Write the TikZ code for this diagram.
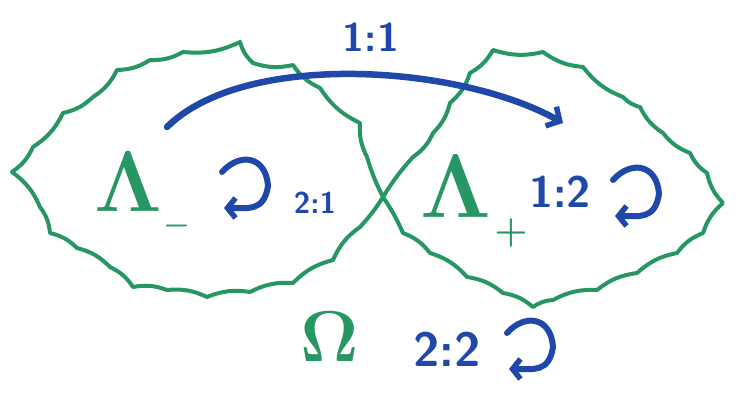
\RequirePackage{fix-cm}
\documentclass[tikz,border=0pt]{standalone}
\usetikzlibrary{arrows.meta}
\definecolor{mkgreen}{RGB}{38,150,98}
\definecolor{mkblue}{RGB}{32,72,170}
\begin{document}
\begin{tikzpicture}[x=1pt,y=-1pt, line cap=round, line join=round,
  blob/.style={draw=mkgreen, line width=4pt},
  flow/.style={draw=mkblue, line width=6.5pt, -{Straight Barb[length=10pt,width=22pt,line width=5.5pt]}},
  cyc/.style={draw=mkblue, line width=6pt, -{Straight Barb[length=8pt,width=20pt,line width=5.5pt]}},
  ratio/.style={text=mkblue, inner sep=0pt, font=\sffamily\bfseries\fontsize{#1}{#1}\selectfont},
  sym/.style={text=mkgreen, inner sep=0pt, font=\boldmath\fontsize{#1}{#1}\selectfont}]
\useasboundingbox (0,0) rectangle (746,393);
% left region
\draw[blob] (12,172) \foreach \a/\b in {33/147,63/113,93/97,117/70,150/60,183/52,240/42,253/63,293/65,320/88,360/123,367/157} { to[bend right=15] (\a,\b) } to[bend right=5] (383,197) to[bend left=5] (360,227) \foreach \a/\b in {333/260,293/283,250/292,207/297,167/290,133/287,110/267,77/248,50/233,40/207} { to[bend right=15] (\a,\b) } to[bend right=15] (12,172);
% right region
\draw[blob] (383,197) to[bend left=5] (413,157) \foreach \a/\b in {433/133,450/103,470/73,493/50,543/52,583/67,623/97,640/107,663/133,690/153,707/173,723/203,703/233,677/253,637/273,597/290,553/300,533/307,503/293,467/277,430/253,403/233} { to[bend right=15] (\a,\b) } to[bend right=5] (383,197);
% labels
\node[sym=86] (lm) at (128,182) {$\mathbf{\Lambda}$};
\node[sym=30] (lmsub) at (177,226) {$\mathbf{-}$};
\node[sym=90] (lp) at (456,187) {$\mathbf{\Lambda}$};
\node[sym=38] (lpsub) at (511,233) {$\mathbf{+}$};
\node[sym=72] (om) at (330,337) {$\mathbf{\Omega}$};
\node[ratio=40] (r11) at (371,37) {1:1};
\node[ratio=30] (r21) at (315,203) {2:1};
\node[ratio=44] (r12) at (560,192) {1:2};
\node[ratio=48] (r22) at (447,349) {2:2};
% main arrow
\coordinate (s) at (167,127);
\coordinate (e) at (563,123);
\draw[flow] (s) .. controls (245,50) and (460,65) .. (e);
% loop arrows
\foreach \x/\y/\n in {222/172/ca, 613/180/cb, 507/333/cc} {
  \coordinate (\n) at (\x,\y);
  \draw[cyc] (\n) .. controls ++(18,-20) and ++(-2,-30) .. ++(46,14) .. controls ++(-4,26) and ++(24,0) .. ++(-44,22);
}
\end{tikzpicture}
\end{document}
